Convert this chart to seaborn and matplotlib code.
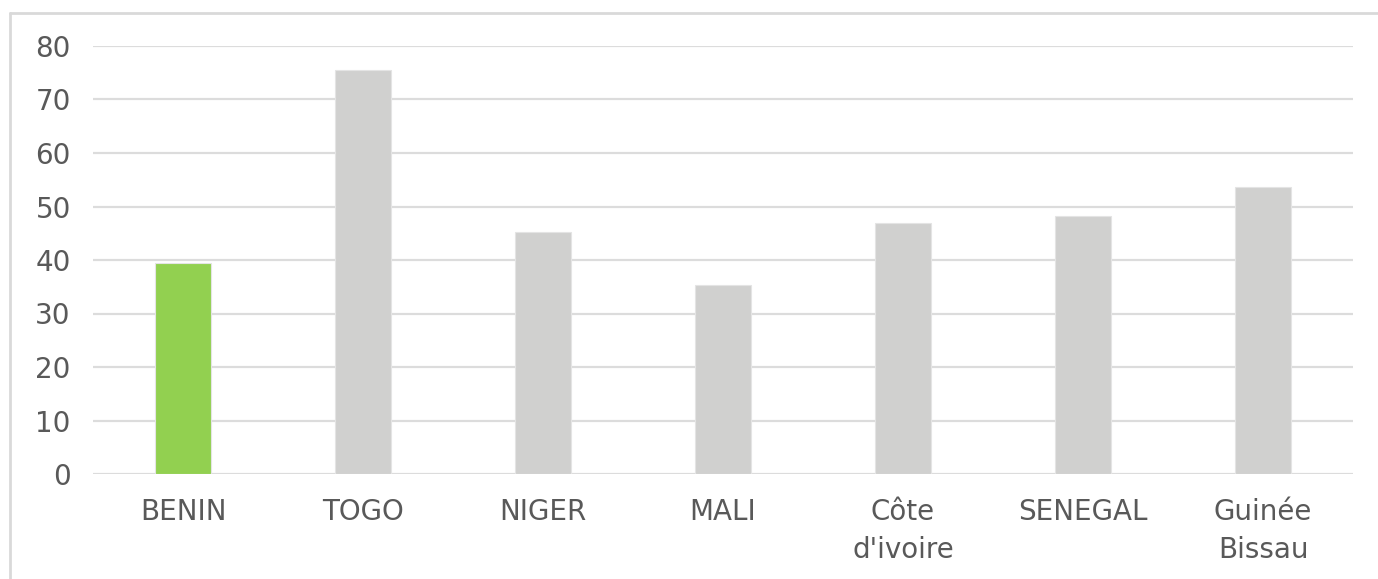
import matplotlib
matplotlib.use("Agg")
import matplotlib.pyplot as plt
from matplotlib.lines import Line2D
import seaborn as sns
import pandas as pd

# Country values
countries = ["BENIN", "TOGO", "NIGER", "MALI", "Côte\nd'ivoire", "SENEGAL", "Guinée\nBissau"]
values = [39.4, 75.6, 45.2, 35.4, 47.0, 48.3, 53.7]
highlight = "BENIN"
y_ticks = [0, 10, 20, 30, 40, 50, 60, 70, 80]

GREEN = "#92d050"
GREY = "#d0d0cf"
GRID = "#dcdcdc"
TEXT = "#595959"

sns.set_theme(style="white")
plt.rcParams["font.family"] = ["DejaVu Sans"]

df = pd.DataFrame({"country": countries, "value": values})
palette = {c: (GREEN if c == highlight else GREY) for c in countries}

fig = plt.figure(figsize=(13.78, 5.79), dpi=100)
ax = fig.add_axes([93 / 1378, 1 - 474 / 579, (1353 - 93) / 1378, (474 - 46) / 579])

sns.barplot(data=df, x="country", y="value", hue="country", palette=palette,
            order=countries, width=0.31, saturation=1, legend=False, ax=ax,
            edgecolor="#e4e4e4", linewidth=0.8, zorder=3)

ax.set_ylim(0, 80)
ax.set_xlim(-0.5, len(countries) - 0.5)
ax.set_yticks(y_ticks)
ax.yaxis.grid(True, color=GRID, linewidth=1.6)
ax.set_axisbelow(True)
for s in ax.spines.values():
    s.set_visible(False)
ax.axhline(0, color=GRID, linewidth=1.8, zorder=2)

ax.set_xlabel("")
ax.set_ylabel("")
ax.tick_params(axis="y", length=0, pad=16, labelsize=20, labelcolor=TEXT)
ax.tick_params(axis="x", length=0, pad=17, labelsize=20, labelcolor=TEXT)
for lbl in ax.get_xticklabels():
    lbl.set_linespacing(1.45)

# Outer chart frame (top and left edges)
fig.add_artist(Line2D([10 / 1378, 10 / 1378], [0, 1 - 13 / 579],
                      transform=fig.transFigure, color="#d9d9d9", linewidth=2))
fig.add_artist(Line2D([10 / 1378, 1], [1 - 13 / 579, 1 - 13 / 579],
                      transform=fig.transFigure, color="#d9d9d9", linewidth=2))

fig.savefig("out.png", dpi=100, facecolor="white")
